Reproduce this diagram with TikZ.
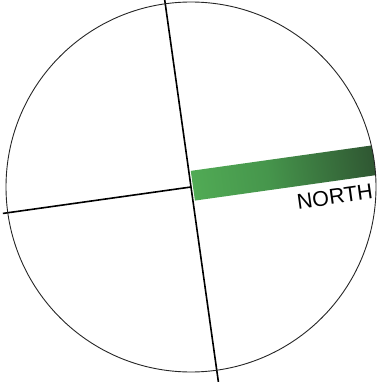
\documentclass[tikz,border=0pt]{standalone}
\usepackage{fontspec}
\setmainfont{Liberation Sans}
\definecolor{barA}{RGB}{94,196,96}
\definecolor{barB}{RGB}{70,150,76}
\definecolor{barC}{RGB}{26,28,26}
\pgfdeclarehorizontalshading{barshade}{100bp}{color(0bp)=(barA); color(45bp)=(barB); color(100bp)=(barC)}
\begin{document}
\begin{tikzpicture}[x=1pt,y=1pt,
  rim/.style={draw=black!85,line width=0.9pt},
  axisline/.style={draw=black,line width=1.6pt},
  northlabel/.style={font=\fontsize{21.5}{23}\selectfont,inner sep=0pt}]
\useasboundingbox (0,0) rectangle (383,381);
\clip (0,0) rectangle (383,381);
\coordinate (C) at (191,194);
\begin{scope}[transform canvas={shift={(191,194)},rotate=8}]
  \begin{scope}
    \clip (0,0) circle[radius=185];
    \shade[shading=barshade] (2,-14) rectangle (190,16);
  \end{scope}
  \coordinate (O) at (0,0);
  \coordinate (T) at (0,200);
  \coordinate (B) at (0,-200);
  \coordinate (L) at (-190,0);
  \draw[axisline] (T) -- (B);
  \draw[axisline] (L) -- (O);
  \node[northlabel] (north) at (141,-29.5) {NORTH};
\end{scope}
\draw[rim] (C) circle[radius=185];
\end{tikzpicture}
\end{document}
